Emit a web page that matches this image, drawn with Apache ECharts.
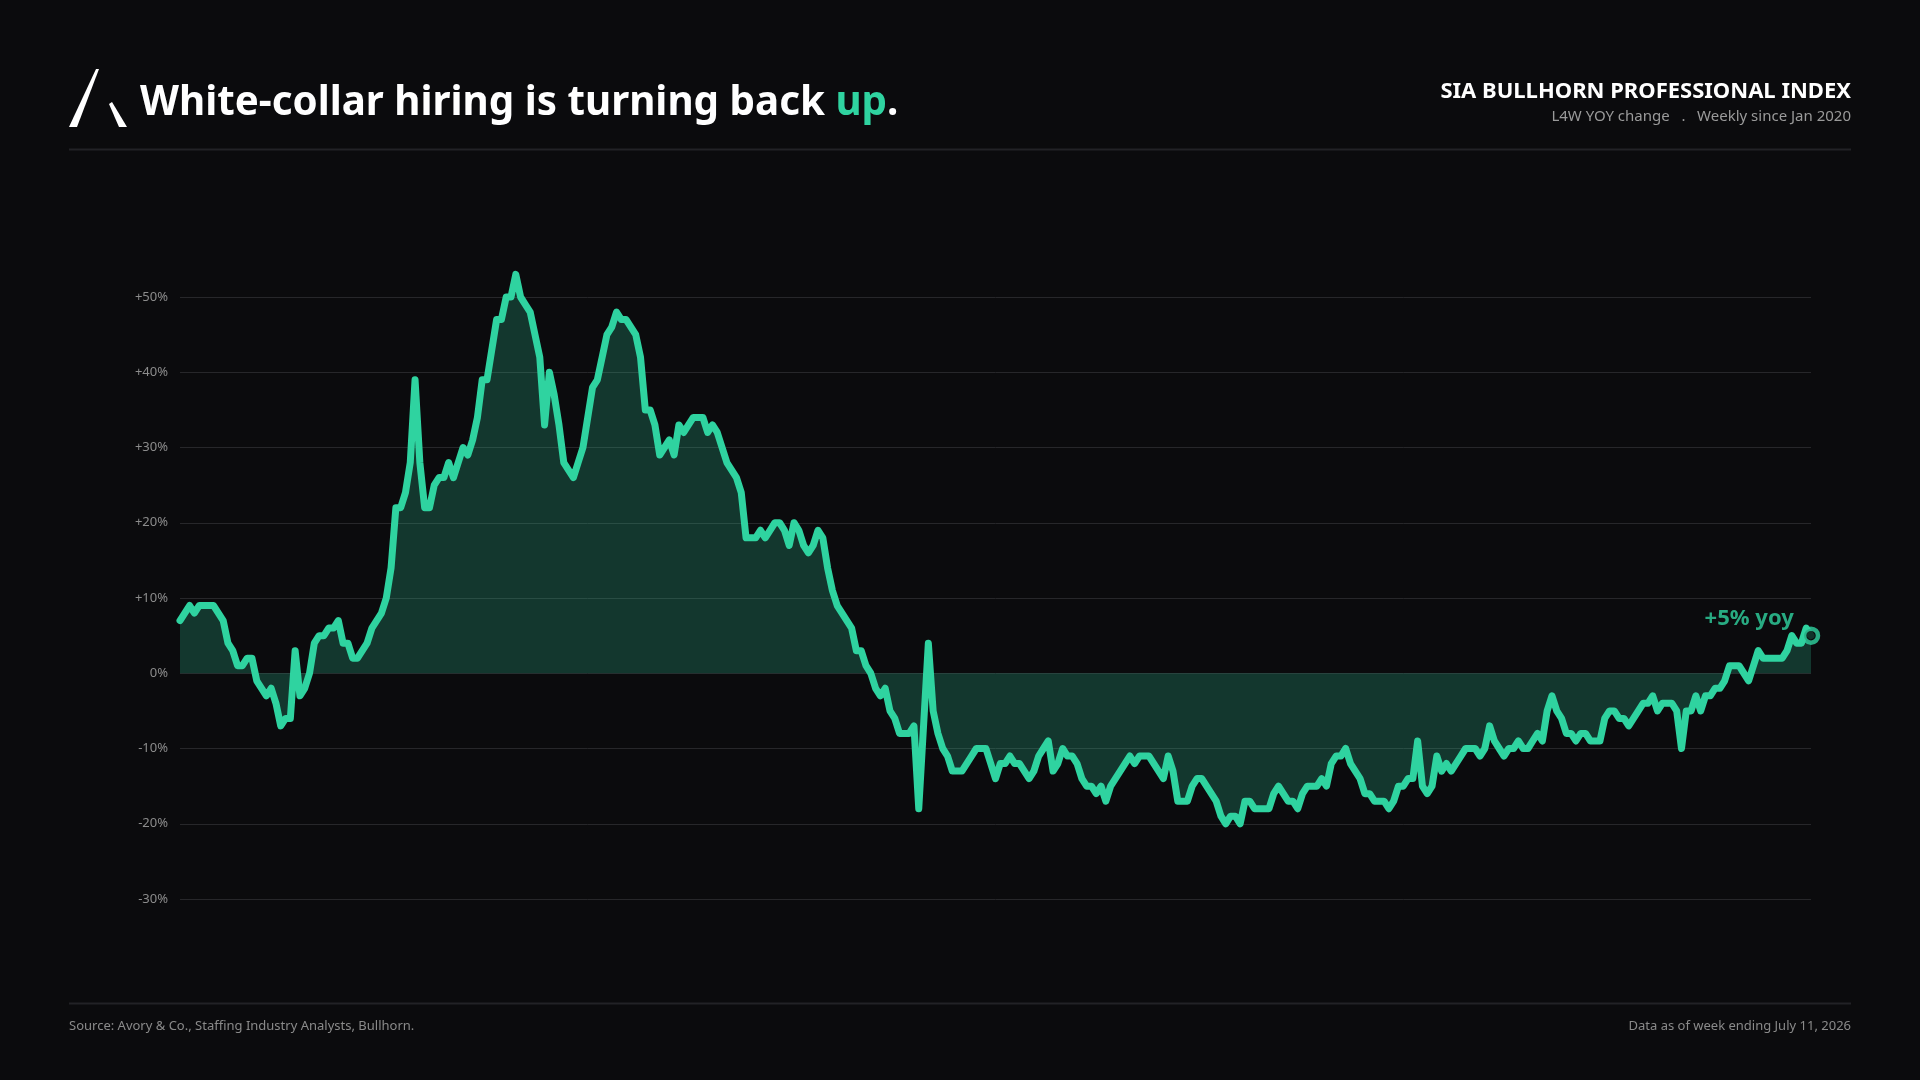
<!DOCTYPE html>
<html>
<head>
<meta charset="utf-8">
<title>SIA Bullhorn Professional Index</title>
<script src="https://cdn.jsdelivr.net/npm/echarts@6/dist/echarts.min.js"></script>
<style>
  html, body { margin: 0; padding: 0; background: #0b0b0d; }
  #chart { width: 1920px; height: 1080px; }
</style>
</head>
<body>
<div id="chart"></div>
<script>
// L4W YOY change (%), weekly, one array per calendar year
var y2020 = [7, 8, 9, 8, 9, 9, 9, 9, 8, 7, 4, 3, 1, 1, 2, 2, -1, -2, -3, -2,
             -4, -7, -6, -6, 3, -3, -2, 0, 4, 5, 5, 6, 6, 7, 4, 4, 2, 2, 3, 4,
             6, 7, 8, 10, 14, 22, 22, 24, 28, 39, 28, 22];
var y2021 = [22, 25, 26, 26, 28, 26, 28, 30, 29, 31, 34, 39, 39, 43, 47, 47, 50, 50,
             53, 50, 49, 48, 45, 42, 33, 40, 37, 33, 28, 27, 26, 28, 30, 34, 38, 39,
             42, 45, 46, 48, 47, 47, 46, 45, 42, 35, 35, 33, 29, 30, 31, 29];
var y2022 = [33, 32, 33, 34, 34, 34, 32, 33, 32, 30, 28, 27, 26, 24,
             18, 18, 18, 19, 18, 19, 20, 20, 19, 17, 20, 19, 17, 16, 17, 19, 18,
             14, 11, 9, 8, 7, 6, 3, 3, 1, 0, -2, -3, -2, -5, -6, -8, -8, -8, -7,
             -18, -7, 4];
var y2023 = [-5, -8, -10, -11, -13, -13, -13, -12, -11, -10, -10, -10, -12,
             -14, -12, -12, -11, -12, -12, -13, -14, -13, -11, -10, -9, -13, -12,
             -10, -11, -11, -12, -14, -15, -15, -16, -15, -17, -15, -14, -13, -12,
             -11, -12, -11, -11, -11, -12, -13, -14, -11, -13, -17];
var y2024 = [-17, -17, -15, -14, -14, -15, -16, -17, -19, -20, -19, -19, -20,
             -17, -17, -18, -18, -18, -18, -16, -15, -16, -17, -17, -18, -16, -15,
             -15, -15, -14, -15, -12, -11, -11, -10, -12, -13, -14, -16, -16, -17,
             -17, -17, -18, -17, -15, -15, -14, -14, -9, -15, -16];
var y2025 = [-15, -11, -13, -12, -13, -12, -11, -10, -10, -10, -11, -10, -7, -9,
             -10, -11, -10, -10, -9, -10, -10, -9, -8, -9, -5, -3, -5, -6, -8, -8,
             -9, -8, -8, -9, -9, -9, -6, -5, -5, -6, -6, -7, -6, -5, -4, -4, -3,
             -5, -4, -4, -4, -5];
var y2026 = [-10, -5, -5, -3, -5, -3, -3, -2, -2, -1, 1, 1, 1, 0, -1, 1, 3, 2, 2,
             2, 2, 2, 3, 5, 4, 4, 6, 5];

var yTicks = [-30, -20, -10, 0, 10, 20, 30, 40, 50];

var values = [].concat(y2020, y2021, y2022, y2023, y2024, y2025, y2026);

// week-ending dates, first week ending Jan 4 2020
var weeks = [];
var d0 = Date.UTC(2020, 0, 4);
for (var i = 0; i < values.length; i++) {
    weeks.push(new Date(d0 + i * 7 * 86400000).toISOString().slice(0, 10));
}
var lastIdx = values.length - 1;
var lastVal = values[lastIdx];

var GREEN = '#2fd3a0';
var FONT = '"Noto Sans", "DejaVu Sans", sans-serif';
var TITLE_FONT = 'bold 40.3px ' + FONT;

var myChart = echarts.init(document.getElementById('chart'));

var option = {
    backgroundColor: '#0b0b0d',
    animation: false,
    textStyle: { fontFamily: FONT },
    grid: { left: 180, right: 109, top: 297, bottom: 181 },
    xAxis: {
        type: 'category',
        data: weeks,
        boundaryGap: false,
        axisLine: { show: false },
        axisTick: { show: false },
        axisLabel: { show: false },
        splitLine: { show: false }
    },
    yAxis: {
        type: 'value',
        min: yTicks[0],
        max: yTicks[yTicks.length - 1],
        interval: 10,
        axisLine: { show: false },
        axisTick: { show: false },
        axisLabel: {
            color: '#8c8c8c',
            fontSize: 13,
            margin: 12,
            fontFamily: FONT,
            formatter: function (v) { return (v > 0 ? '+' : '') + v + '%'; }
        },
        splitLine: { lineStyle: { color: '#27272a', width: 1 } }
    },
    series: [{
        type: 'line',
        data: values,
        showSymbol: false,
        clip: false,
        lineStyle: { color: GREEN, width: 7, join: 'round', cap: 'round' },
        areaStyle: { color: 'rgba(47,211,160,0.32)', origin: 0 },
        z: 2
    }, {
        type: 'scatter',
        data: [[lastIdx, lastVal]],
        symbol: 'circle',
        symbolSize: 14,
        itemStyle: { color: '#0b0b0d', borderColor: GREEN, borderWidth: 4.5 },
        label: {
            show: true,
            position: 'left',
            distance: 2,
            offset: [-6, -17],
            formatter: function (p) { return (p.value[1] > 0 ? '+' : '') + p.value[1] + '% yoy'; },
            color: GREEN,
            fontSize: 22,
            fontWeight: 'bold',
            fontFamily: FONT
        },
        z: 5
    }],
    graphic: [
        // logo
        { type: 'polygon', shape: { points: [[69, 127], [77, 127], [99, 69], [96, 69]] }, style: { fill: '#ffffff' } },
        { type: 'polygon', shape: { points: [[109, 104], [112, 102], [127, 127], [119, 127]] }, style: { fill: '#ffffff' } },
        {
            type: 'text', x: 140, y: 104,
            style: {
                text: '{w|White-collar hiring is turning back }{g|up}{w|.}',
                font: TITLE_FONT,
                verticalAlign: 'middle',
                rich: {
                    w: { fill: '#ffffff', font: TITLE_FONT },
                    g: { fill: GREEN, font: TITLE_FONT }
                }
            }
        },
        {
            type: 'text', x: 1851, y: 91.5,
            style: {
                text: 'SIA BULLHORN PROFESSIONAL INDEX',
                fill: '#ffffff', font: 'bold 22px ' + FONT,
                align: 'right', verticalAlign: 'middle'
            }
        },
        {
            type: 'text', x: 1851, y: 116.5,
            style: {
                text: 'L4W YOY change   .   Weekly since Jan 2020',
                fill: '#9a9a9a', font: '15px ' + FONT,
                align: 'right', verticalAlign: 'middle'
            }
        },
        { type: 'line', shape: { x1: 69, y1: 149.5, x2: 1851, y2: 149.5 }, style: { stroke: '#222226', lineWidth: 2 } },
        { type: 'line', shape: { x1: 69, y1: 1003.5, x2: 1851, y2: 1003.5 }, style: { stroke: '#222226', lineWidth: 2 } },
        {
            type: 'text', x: 69, y: 1026,
            style: {
                text: 'Source: Avory & Co., Staffing Industry Analysts, Bullhorn.',
                fill: '#8a8a8a', font: '13px ' + FONT,
                align: 'left', verticalAlign: 'middle'
            }
        },
        {
            type: 'text', x: 1851, y: 1026,
            style: {
                text: 'Data as of week ending July 11, 2026',
                fill: '#8a8a8a', font: '13px ' + FONT,
                align: 'right', verticalAlign: 'middle'
            }
        }
    ]
};

myChart.setOption(option);
</script>
</body>
</html>
